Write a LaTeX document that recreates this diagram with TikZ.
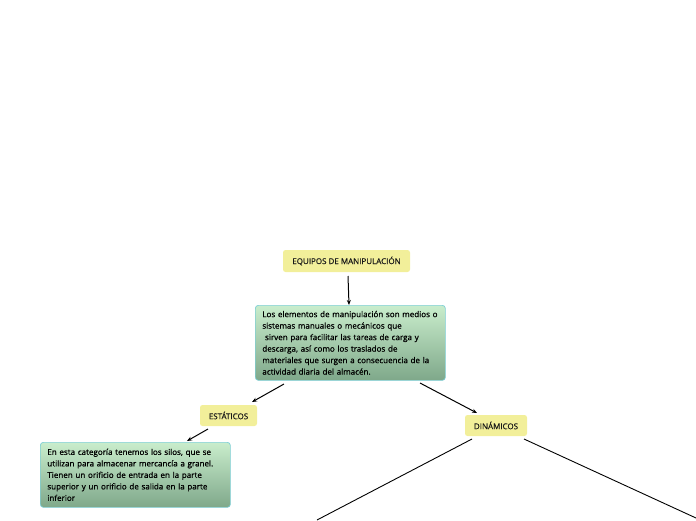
\documentclass[tikz,border=0pt]{standalone}
\usepackage{fontspec}
\setmainfont{Open Sans}
\newfontfamily\semib{Open Sans}[FakeBold=0.9]
\newfontfamily\lightb{Open Sans}[FakeBold=0.4]
\usetikzlibrary{arrows.meta}
\definecolor{yel}{HTML}{F2EF9A}
\definecolor{gtop}{HTML}{C9EDCC}
\definecolor{gbot}{HTML}{7FA88A}
\definecolor{gborder}{HTML}{7ECFD6}
\tikzset{
  x=1pt,y=-1pt,
  label box/.style={fill=yel,rounded corners=2.5pt,font=\lightb\fontsize{8}{9}\selectfont,inner sep=0pt,text=black!90},
  text box/.style={draw=gborder,line width=0.7pt,top color=gtop,bottom color=gbot,rounded corners=3pt,font=\semib\fontsize{8.05}{11.5}\selectfont,align=left,inner xsep=7pt,inner ysep=4.5pt,text=black},
  conn/.style={-{Stealth[length=5pt,width=4pt]},line width=1pt,black},
  plain/.style={line width=0.9pt,black}
}
\begin{document}
\begin{tikzpicture}
\useasboundingbox (0,0) rectangle (696,520);
\node[label box,minimum width=127pt,minimum height=22pt] (equipos) at (346.5,261) {EQUIPOS DE MANIPULACIÓN};
\node[text box,anchor=north west,text width=176pt,minimum height=75pt] (main) at (255,305) {Los elementos de manipulación son medios o\\sistemas manuales o mecánicos que\\\ sirven para facilitar las tareas de carga y\\descarga, así como los traslados de\\materiales que surgen a consecuencia de la\\actividad diaria del almacén.};
\node[label box,minimum width=57pt,minimum height=21pt] (estaticos) at (228.5,415.5) {ESTÁTICOS};
\node[label box,minimum width=62pt,minimum height=21pt] (dinamicos) at (496,425.5) {DINÁMICOS};
\node[text box,anchor=north west,text width=176pt,minimum height=65pt] (silos) at (40,442) {En esta categoría tenemos los silos, que se\\utilizan para almacenar mercancía a granel.\\Tienen un orificio de entrada en la parte\\superior y un orificio de salida en la parte\\inferior};
\coordinate (dl) at (317,520);
\coordinate (dr) at (696,518);
\draw[conn] (348,276) -- (main.north -| 349,0);
\draw[conn] (284,384) -- (252,402);
\draw[conn] (420,383) -- (477,413);
\draw[conn] (208,429) -- (187,441);
\draw[plain] (472,439) -- (dl);
\draw[plain] (524,439) -- (dr);
\end{tikzpicture}
\end{document}
